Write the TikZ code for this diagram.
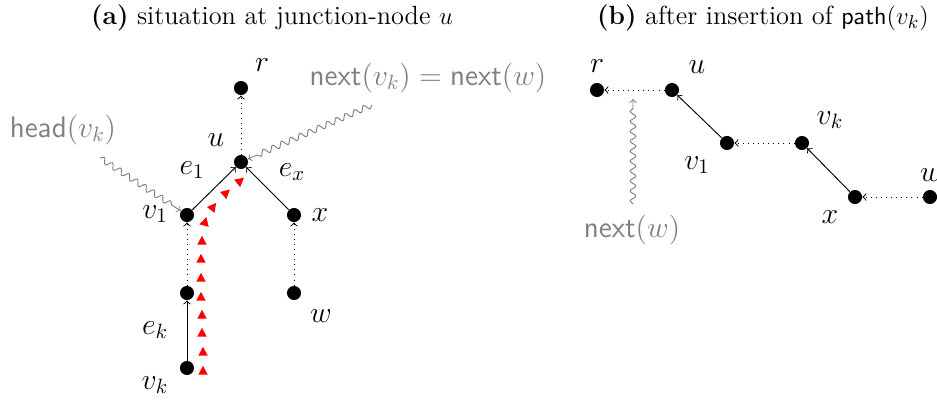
\documentclass[tikz,border=0pt]{standalone}
\usetikzlibrary{decorations.pathmorphing}
\begin{document}
\begin{tikzpicture}[x=0.483pt,y=-0.483pt,
  dot/.style={circle,fill=black,inner sep=0pt,minimum size=6.8pt},
  lbl/.style={inner sep=0pt,font=\Large},
  glbl/.style={inner sep=0pt,text=gray,font=\fontsize{13.6}{16}\selectfont},
  ttl/.style={inner sep=0pt,font=\fontsize{12.7}{15}\selectfont},
  edge/.style={->,line width=0.45pt},
  dedge/.style={->,line width=0.45pt,dotted},
  wavy/.style={->,gray,line width=0.45pt,decorate,decoration={snake,amplitude=1.4pt,segment length=4.8pt,post length=3pt}},
  redtri/.style={fill=red}
]
\useasboundingbox (0,0) rectangle (937,404);
% titles
\node[ttl] (ta) at (272,18) {\textbf{(a)} situation at junction-node $u$};
\node[ttl] (tb) at (763,18) {\textbf{(b)} after insertion of $\mathsf{path}(v_k)$};
% (a) nodes
\node[dot] (ar) at (241,88) {};
\node[dot] (au) at (241,162) {};
\node[dot] (av1) at (187,215) {};
\node[dot] (ax) at (294,215) {};
\node[dot] (am) at (187,293) {};
\node[dot] (aw) at (294,293) {};
\node[dot] (avk) at (187,368) {};
% (a) labels
\node[lbl] (lar) at (262,65) {$r$};
\node[lbl] (lau) at (216,140) {$u$};
\node[lbl] (lae1) at (192,170) {$e_1$};
\node[lbl] (laex) at (292,172) {$e_x$};
\node[lbl] (lav1) at (155,214) {$v_1$};
\node[lbl] (lax) at (320,215) {$x$};
\node[lbl] (law) at (321,316) {$w$};
\node[lbl] (laek) at (155,330) {$e_k$};
\node[lbl] (lavk) at (155,385) {$v_k$};
\node[glbl] (head) at (63,130) {$\mathsf{head}(v_k)$};
\node[glbl] (nxt) at (428,78) {$\mathsf{next}(v_k)=\mathsf{next}(w)$};
% (a) edges
\draw[dedge] (au) -- (ar);
\draw[edge] (av1) -- (au);
\draw[edge] (ax) -- (au);
\draw[dedge] (am) -- (av1);
\draw[dedge] (aw) -- (ax);
\draw[edge] (avk) -- (am);
% wavy pointers
\coordinate (hs) at (100,158);
\coordinate (ns) at (372,105);
\draw[wavy] (hs) -- (av1);
\draw[wavy] (ns) -- (au);
% red triangles along the path from v_k to u
\foreach \px/\py/\pa in {203/371/0, 203/352/0, 202/333/0, 202/315/0, 201/297/0, 201/278/0, 201/259/0, 202/241/0, 205/222/-15, 213/207/-38, 226/193/-48, 240/181/-50}{
  \fill[redtri, shift={(\px,\py)}, rotate=\pa] (0pt,2.5pt) -- (-2.3pt,-1.8pt) -- (2.3pt,-1.8pt) -- cycle;
}
% (b) nodes
\node[dot] (br) at (597,90) {};
\node[dot] (bu) at (672,90) {};
\node[dot] (bv1) at (727,143) {};
\node[dot] (bvk) at (802,143) {};
\node[dot] (bx) at (855,197) {};
\node[dot] (bw) at (930,197) {};
% (b) labels
\node[lbl] (lbr) at (597,66) {$r$};
\node[lbl] (lbu) at (697,67) {$u$};
\node[lbl] (lbv1) at (697,165) {$v_1$};
\node[lbl] (lbvk) at (830,120) {$v_k$};
\node[lbl] (lbx) at (830,217) {$x$};
\node[lbl] (lbw) at (931,175) {$w$};
\node[glbl] (nw) at (632,230) {$\mathsf{next}(w)$};
% (b) edges
\draw[dedge] (bu) -- (br);
\draw[edge] (bv1) -- (bu);
\draw[dedge] (bvk) -- (bv1);
\draw[edge] (bx) -- (bvk);
\draw[dedge] (bw) -- (bx);
\coordinate (nws) at (633,204);
\coordinate (nwe) at (633,99);
\draw[wavy] (nws) -- (nwe);
\end{tikzpicture}
\end{document}
